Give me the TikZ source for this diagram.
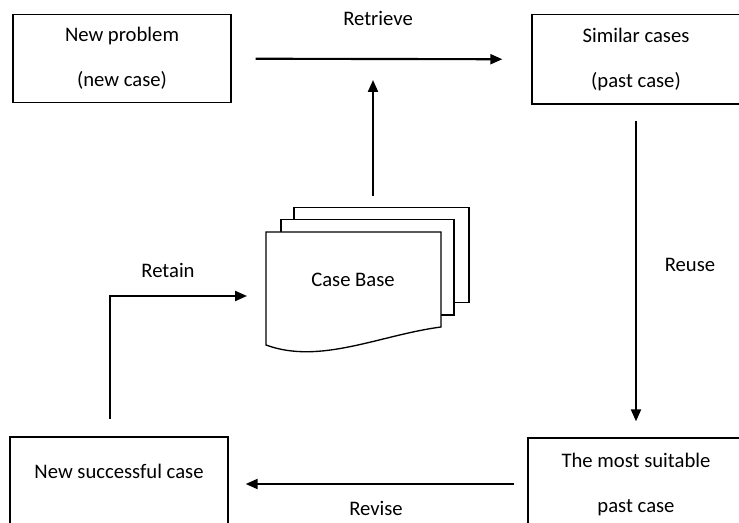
\documentclass[tikz,border=0pt]{standalone}
\usepackage{fontspec}
\setmainfont{Carlito}
\usetikzlibrary{arrows.meta}

\begin{document}
\begin{tikzpicture}[x=0.75pt, y=-0.75pt,
    every node/.style={font=\fontsize{15.5}{33.75}\selectfont},
    box/.style={rectangle, draw, line width=1pt, align=center, inner sep=0pt},
    flow/.style={-{Triangle[length=9pt, width=7.5pt]}, line width=1.6pt},
    sheet/.style={draw, fill=white, line width=1pt}]
  \useasboundingbox (0,0) rectangle (739,523);
  \clip (0,0) rectangle (739,523);

  % boxes
  \node[box, minimum width=163.5pt, minimum height=66pt] (newprob) at (122,58.7) {New problem\\(new case)};
  \node[box, minimum width=156pt, minimum height=67pt] (similar) at (636,59.3) {Similar cases\\(past case)};
  \node[box, minimum width=162pt, minimum height=69pt] (suitable) at (636,484) {The most suitable\\past case};
  \node[box, minimum width=163.5pt, minimum height=75pt, text height=11pt, text depth=23pt] (newsucc) at (119,487) {New successful case};

  % case base
  \draw[sheet] (294,207.7) rectangle (469,302.7);
  \draw[sheet] (281,219.3) rectangle (454,315);
  \draw[sheet] (266,345) -- (266,232) -- (441,232) -- (441,327)
    .. controls (380,335) and (320,365) .. (266,345) -- cycle;
  \node (casebase) at (353,280) {Case Base};

  % retrieve
  \draw[flow, shorten <=18pt, shorten >=21.75pt] (newprob.east) -- (similar.west);
  \node (retrieve) at (378,18) {Retrieve};
  \coordinate (cbtop) at (373,196);
  \coordinate (fetch) at (373,80);
  \draw[flow] (cbtop) -- (fetch);

  % reuse
  \draw[flow, shorten <=12pt, shorten >=12pt] (similar.south) -- (suitable.north);
  \node (reuse) at (690,265) {Reuse};

  % revise
  \draw[flow, shorten <=9.75pt, shorten >=12.75pt] (suitable.west) -- (suitable.west -| newsucc.east);
  \node (revise) at (376,508) {Revise};

  % retain
  \coordinate (keep) at (110,419);
  \coordinate (store) at (247,296);
  \draw[flow] (keep) |- (store);
  \node (retain) at (168,270) {Retain};
\end{tikzpicture}
\end{document}
